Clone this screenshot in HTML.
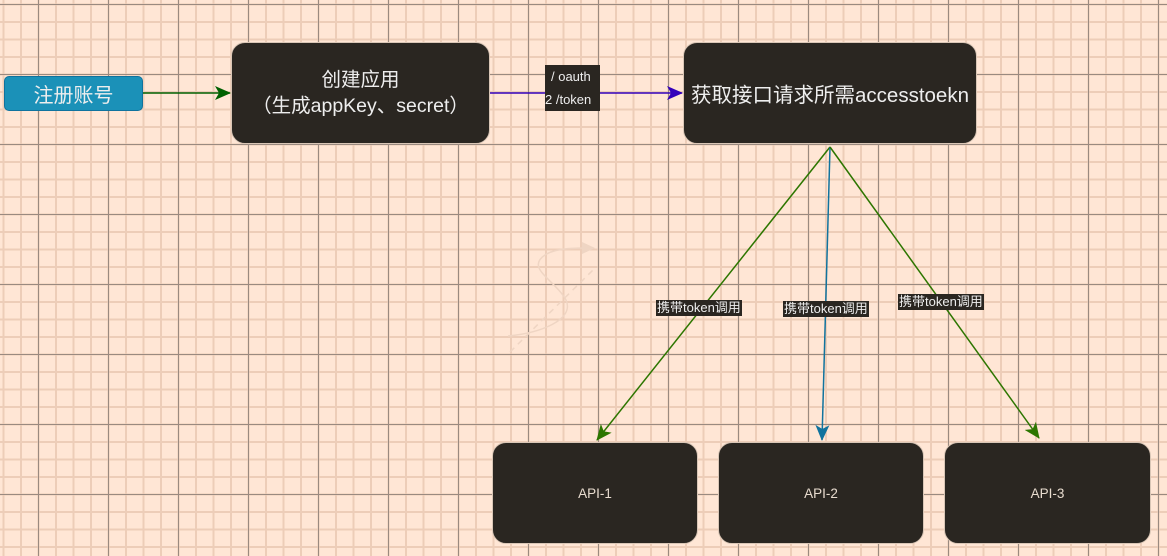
<!DOCTYPE html>
<html><head><meta charset="utf-8"><style>
html,body{margin:0;padding:0}
body{width:1167px;height:556px;overflow:hidden;position:relative;background-color:#ffe6d5;
background-image:
linear-gradient(to right,#9a8a80 1px,transparent 1px),
linear-gradient(to bottom,#9a8a80 1px,transparent 1px),
linear-gradient(to right,#edcdb8 2px,transparent 2px),
linear-gradient(to bottom,#edcdb8 2px,transparent 2px);
background-size:70px 70px,70px 70px,17.5px 17.5px,17.5px 17.5px;
background-position:38px 4px,38px 4px,2.5px 3.5px,2.5px 3.5px;
font-family:"Liberation Sans","Noto Sans CJK SC",sans-serif}
.b{position:absolute;box-sizing:border-box;background:#2a2621;border:1px solid #d9c6b6;border-radius:14px;color:#eee;display:flex;align-items:center;justify-content:center;text-align:center}
.lbl{position:absolute;background:#2a2621;color:#eee;font-size:13px;line-height:16px;padding:0 1px;white-space:nowrap}
</style></head><body>
<svg width="1167" height="556" style="position:absolute;left:0;top:0">
<defs>
<marker id="g" markerWidth="16" markerHeight="14" refX="15" refY="7" orient="auto" markerUnits="userSpaceOnUse"><path d="M0,0 L16,7 L0,14 L4,7z" fill="#006000"/></marker>
<marker id="p" markerWidth="16" markerHeight="14" refX="15" refY="7" orient="auto" markerUnits="userSpaceOnUse"><path d="M0,0 L16,7 L0,14 L4,7z" fill="#3300bb"/></marker>
<marker id="g2" markerWidth="16" markerHeight="14" refX="15" refY="7" orient="auto" markerUnits="userSpaceOnUse"><path d="M0,0 L16,7 L0,14 L4,7z" fill="#2d7600"/></marker>
<marker id="bl" markerWidth="16" markerHeight="14" refX="15" refY="7" orient="auto" markerUnits="userSpaceOnUse"><path d="M0,0 L16,7 L0,14 L4,7z" fill="#10739e"/></marker>
</defs>
<line x1="143" y1="93" x2="230" y2="93" stroke="#006000" stroke-width="1.5" marker-end="url(#g)"/>
<line x1="490" y1="93" x2="682" y2="93" stroke="#3300bb" stroke-width="1.5" marker-end="url(#p)"/>
<line x1="830" y1="147" x2="597" y2="440" stroke="#2d7600" stroke-width="1.5" marker-end="url(#g2)"/>
<line x1="830" y1="147" x2="822" y2="440" stroke="#10739e" stroke-width="1.5" marker-end="url(#bl)"/>
<line x1="830" y1="147" x2="1039" y2="438" stroke="#2d7600" stroke-width="1.5" marker-end="url(#g2)"/>
<path d="M508,336 C540,333 575,320 566,300 C555,280 525,268 545,255 C555,248 575,248 590,248" fill="none" stroke="#efd5c3" stroke-width="1.5"/>
<path d="M582,242 L595,248 L582,254z" fill="#efd5c3"/>
<line x1="510" y1="352" x2="593" y2="270" stroke="#efd5c3" stroke-width="1.5" stroke-dasharray="6 5"/>
</svg>
<div style="position:absolute;left:4px;top:76px;width:139px;height:35px;box-sizing:border-box;background:#1b91b8;border:1px solid #10739e;border-radius:5px;color:#eee;font-size:20px;display:flex;align-items:center;justify-content:center">注册账号</div>
<div class="b" style="left:231px;top:42px;width:259px;height:102px;font-size:19.5px;line-height:26px">创建应用<br>（生成appKey、secret）</div>
<div class="b" style="left:683px;top:42px;width:294px;height:102px;font-size:20.5px">获取接口请求所需accesstoekn</div>
<div class="lbl" style="left:545px;top:65px;width:55px;height:46px;font-size:13px;line-height:23px;padding:0"><span style="display:block;padding-left:6px">/ oauth</span><span style="display:block">2 /token</span></div>
<div class="lbl" style="left:656px;top:300px">携带token调用</div>
<div class="lbl" style="left:783px;top:301px">携带token调用</div>
<div class="lbl" style="left:898px;top:294px">携带token调用</div>
<div class="b" style="left:492px;top:442px;width:206px;height:102px;font-size:13.5px;color:#e8dccf">API-1</div>
<div class="b" style="left:718px;top:442px;width:206px;height:102px;font-size:13.5px;color:#e8dccf">API-2</div>
<div class="b" style="left:944px;top:442px;width:207px;height:102px;font-size:13.5px;color:#e8dccf">API-3</div>
</body></html>
